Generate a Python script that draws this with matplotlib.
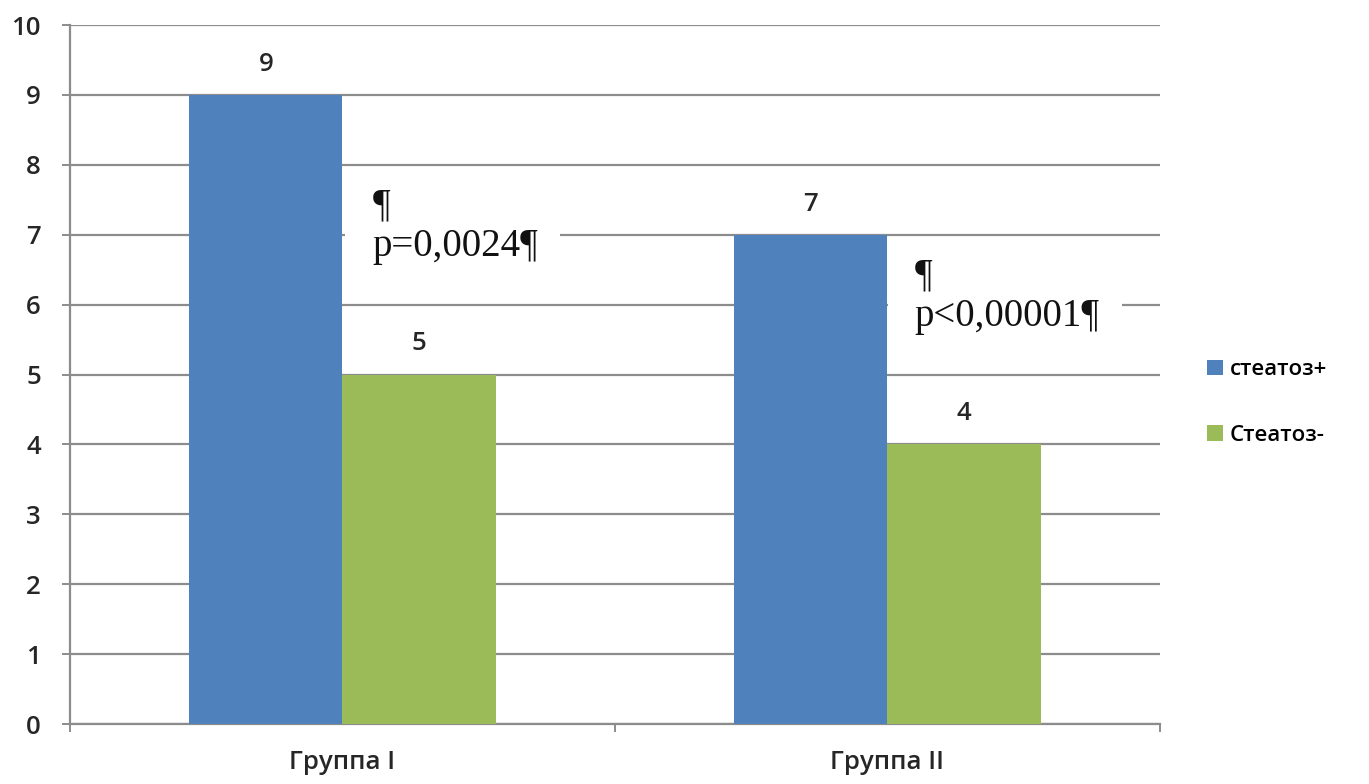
import matplotlib
matplotlib.use("Agg")
import matplotlib.pyplot as plt
from matplotlib.patches import Rectangle
import numpy as np

# Chart data
groups = ["Группа I", "Группа II"]
series_names = ["стеатоз+", "Стеатоз-"]
steatosis_pos = [9, 7]
steatosis_neg = [5, 4]
p_labels = ["¶\np=0,0024¶", "¶\np<0,00001¶"]
y_ticks = list(range(0, 11))

blue = "#4F81BD"
green = "#9BBB59"
grid_col = "#8C8C8C"
txt_col = "#262626"
sans = "Open Sans"
fs = 18.5
fw = 600

fig = plt.figure(figsize=(13.69, 7.84), dpi=100)
ax = fig.add_axes([0.0511, 0.0765, 0.7962, 0.8916])

x = np.arange(len(groups))
w = 0.281

b1 = ax.bar(x - w / 2, steatosis_pos, width=w, color=blue, zorder=3, label=series_names[0])
b2 = ax.bar(x + w / 2, steatosis_neg, width=w, color=green, zorder=3, label=series_names[1])

# Value labels above bars
for rects, vals in ((b1, steatosis_pos), (b2, steatosis_neg)):
    for r, v in zip(rects, vals):
        ax.annotate(str(v), (r.get_x() + r.get_width() / 2, v),
                    xytext=(0, 13), textcoords="offset points",
                    ha="center", va="bottom", fontsize=fs, fontweight=fw,
                    family=sans, color=txt_col)

ax.set_xlim(-0.5, 1.5)
ax.set_ylim(0, 10)
ax.set_yticks(y_ticks)
ax.set_yticklabels([str(t) for t in y_ticks], family=sans, fontsize=fs,
                   fontweight=fw, color=txt_col)
ax.yaxis.grid(True, color=grid_col, linewidth=1.6, zorder=1)
ax.set_axisbelow(True)

ax.set_xticks(x)
ax.set_xticklabels(groups, family=sans, fontsize=fs, fontweight=fw, color=txt_col)
ax.tick_params(axis="x", which="major", length=0, pad=19)
ax.set_xticks([-0.5, 0.5, 1.5], minor=True)
ax.tick_params(axis="x", which="minor", length=6, width=1.4, color=grid_col, direction="out")
ax.tick_params(axis="y", length=6, width=1.4, color=grid_col, direction="out", pad=15)

for s in ("top", "right"):
    ax.spines[s].set_visible(False)
ax.spines["left"].set_color(grid_col)
ax.spines["left"].set_linewidth(1.6)
ax.spines["bottom"].set_color(grid_col)
ax.spines["bottom"].set_linewidth(1.6)

# p-value annotations sitting on white text frames over the grid
p_pos = [(0.055, 7.12), (1.05, 6.12)]
p_texts = []
for (px, py), txt in zip(p_pos, p_labels):
    t = ax.text(px, py, txt, ha="left", va="center", fontsize=28,
                family="Liberation Serif", color="#111111", linespacing=1.15,
                zorder=2.6)
    p_texts.append(t)

fig.canvas.draw()
renderer = fig.canvas.get_renderer()
inv = ax.transData.inverted()
for t in p_texts:
    bb = t.get_window_extent(renderer)
    (x0, y0), (x1, y1) = inv.transform([(bb.x0 - 27, bb.y0 - 8), (bb.x1 + 22, bb.y1 - 4)])
    ax.add_patch(Rectangle((x0, y0), x1 - x0, y1 - y0, facecolor="white",
                           edgecolor="none", zorder=2.5))

leg = ax.legend(loc="center left", bbox_to_anchor=(1.025, 0.46), frameon=False,
                prop={"family": sans, "size": 16, "weight": fw},
                handlelength=0.7, handleheight=0.7, handletextpad=0.3,
                labelspacing=2.0)

fig.savefig("out.png", dpi=100, facecolor="white")
